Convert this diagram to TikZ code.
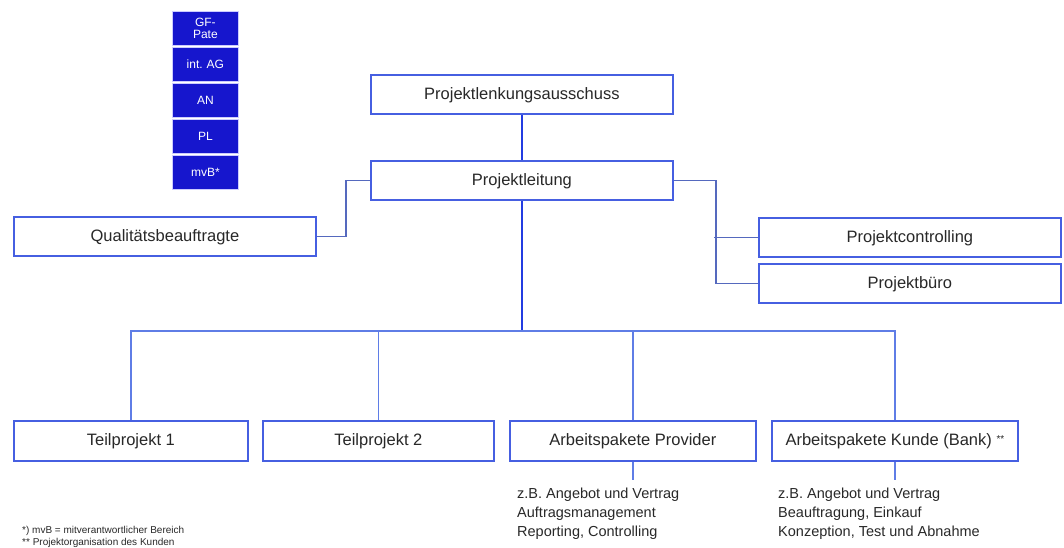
\documentclass[tikz,border=0pt]{standalone}
\usepackage{fontspec}
\setmainfont{Liberation Sans}
\usetikzlibrary{calc}
\definecolor{boxline}{RGB}{70,95,225}
\definecolor{conn}{RGB}{85,105,190}
\definecolor{mainconn}{RGB}{35,60,225}
\definecolor{busconn}{RGB}{95,125,230}
\definecolor{legfill}{RGB}{22,22,205}
\definecolor{txt}{RGB}{40,40,40}
\begin{document}
\begin{tikzpicture}[x=1pt,y=-1pt,
  orgbox/.style={draw=boxline,line width=1.8pt,fill=white,anchor=north west,inner sep=0pt,
    minimum height=39pt,text height=1.05em,text depth=0.1em,font=\fontsize{16.5}{18}\selectfont,text=txt},
  legbox/.style={draw=white!80!blue,line width=0.8pt,fill=legfill,anchor=north west,inner sep=0pt,
    minimum width=66pt,text width=60pt,align=center,text=white,font=\fontsize{12}{13}\selectfont\frenchspacing},
  conline/.style={draw=conn,line width=1.8pt},
  mainline/.style={draw=mainconn,line width=2.2pt},
  busline/.style={draw=busconn,line width=1.8pt},
  subtext/.style={anchor=north west,align=left,inner sep=0pt,text=txt,font=\fontsize{14.5}{19}\selectfont},
  foot/.style={anchor=west,inner sep=0pt,text=txt,font=\fontsize{10}{11}\selectfont}]
\useasboundingbox (0,0) rectangle (1064,548);
% legend
\node[legbox,minimum height=34pt] (gf) at (172,11) {GF-\\[-1pt]Pate};
\node[legbox,minimum height=34pt] (ag) at (172,47) {int. AG};
\node[legbox,minimum height=34pt] (an) at (172,83) {AN};
\node[legbox,minimum height=34pt] (plg) at (172,119) {PL};
\node[legbox,minimum height=34pt] (mvb) at (172,155) {mvB*};
% boxes
\node[orgbox,minimum width=302pt] (pla) at (370,74) {Projektlenkungsausschuss};
\node[orgbox,minimum width=302pt] (pl) at (370,160) {Projektleitung};
\node[orgbox,minimum width=302pt] (qb) at (13,216) {Qualitätsbeauftragte};
\node[orgbox,minimum width=302pt] (pc) at (758,217) {Projektcontrolling};
\node[orgbox,minimum width=302pt] (pb) at (758,263) {Projektbüro};
\node[orgbox,minimum width=234pt,minimum height=40pt] (tp1) at (13,420) {Teilprojekt 1};
\node[orgbox,minimum width=231pt,minimum height=40pt] (tp2) at (262,420) {Teilprojekt 2};
\node[orgbox,minimum width=246pt,minimum height=40pt] (ap) at (509,420) {Arbeitspakete Provider};
\node[orgbox,minimum width=246pt,minimum height=40pt] (ak) at (771,420) {Arbeitspakete Kunde (Bank) {\fontsize{10}{10}\selectfont\raisebox{0.6ex}{**}}};
% connectors
\draw[mainline] (pla.south) -- (pl.north);
\draw[conline] (pl.west) -- ++(-24,0) |- (qb.east);
\draw[conline] (pl.east) -- ++(42,0) |- (pb.west);
\draw[conline] (pc.west) -- ++(-44,0);
\coordinate (bus) at ($(pl.south)+(0,130)$);
\draw[mainline] (pl.south) -- (bus);
\draw[busline] (tp1.north) -- (tp1.north |- bus) -- (ak.north |- bus) -- (ak.north);
\draw[busline] (tp2.north) -- (tp2.north |- bus);
\draw[busline] (ap.north) -- (ap.north |- bus);
% sub texts
\coordinate (apend) at ($(ap.south)+(0,18)$);
\coordinate (akend) at ($(ak.south)+(0,18)$);
\draw[busline] (ap.south) -- (apend);
\draw[busline] (ak.south) -- (akend);
\node[subtext] (apt) at (517,488) {z.B. Angebot und Vertrag\\Auftragsmanagement\\Reporting, Controlling};
\node[subtext] (akt) at (778,488) {z.B. Angebot und Vertrag\\Beauftragung, Einkauf\\Konzeption, Test und Abnahme};
% footnotes
\node[foot] (f1) at (22,531) {*) mvB = mitverantwortlicher Bereich};
\node[foot] (f2) at (22,543) {** Projektorganisation des Kunden};
\end{tikzpicture}
\end{document}
